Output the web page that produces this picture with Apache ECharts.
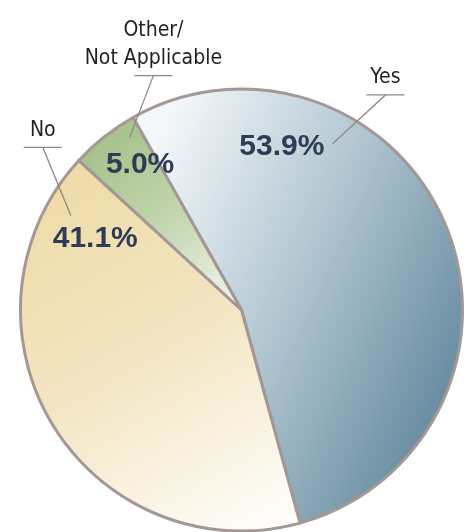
<!DOCTYPE html>
<html>
<head>
<meta charset="utf-8">
<style>
  html, body { margin: 0; padding: 0; background: #ffffff; }
  #chart { width: 474px; height: 532px; }
</style>
<script src="https://cdn.jsdelivr.net/npm/echarts@6/dist/echarts.min.js"></script>
</head>
<body>
<div id="chart"></div>
<script>
// Survey answers, in percent of respondents
const categories = ['Yes', 'No', 'Other/\nNot Applicable'];
const shares = [53.9, 41.1, 5.0];

// Pie geometry (pixels)
const CX = 241.5, CY = 310, R = 221;

// Slice fills: linear gradients across each sector's bounding box
const fills = [
  { x: 0, y: 0.25, x2: 1, y2: 0.6, stops: ['#f3f7fa', '#b2c6d1', '#6a8ea2'] },
  { x: 0.1, y: 0, x2: 0.85, y2: 1, stops: ['#eedaa4', '#f3e5c2', '#fefdf9'] },
  { x: 0.1, y: 0.1, x2: 0.9, y2: 1, stops: ['#a4c08a', '#c2d5ad', '#f1f5ee'] }
];

// Label placement in polar terms: [angle clockwise from 12 o'clock, radius fraction]
const valuePos = [[13.9, 0.759], [-63.9, 0.737], [-34.9, 0.802]];
const leaderTip = [[28.7, 0.858], [-61.0, 0.883], [-33.0, 0.930]];
const leaderKnee = [[33.8, 1.171], [-50.7, 1.162], [-20.6, 1.133]];
const UNDERLINE_HALF = 19;

function polar(p) {
  const a = p[0] * Math.PI / 180;
  return [CX + Math.sin(a) * R * p[1], CY - Math.cos(a) * R * p[1]];
}

function gradient(f) {
  return new echarts.graphic.LinearGradient(f.x, f.y, f.x2, f.y2, [
    { offset: 0, color: f.stops[0] },
    { offset: 0.5, color: f.stops[1] },
    { offset: 1, color: f.stops[2] }
  ]);
}

const pieData = categories.map((name, i) => ({
  name: name,
  value: shares[i],
  itemStyle: { color: gradient(fills[i]) }
}));

const overlayData = categories.map((name, i) => ({ name: name, value: shares[i] }));

const chart = echarts.init(document.getElementById('chart'), null, { renderer: 'canvas' });

chart.setOption({
  animation: false,
  backgroundColor: '#ffffff',
  series: [
    {
      type: 'pie',
      center: [CX, CY],
      radius: [0, R],
      startAngle: 119.4,
      clockwise: true,
      avoidLabelOverlap: false,
      silent: true,
      data: pieData,
      itemStyle: { borderColor: '#a49896', borderWidth: 3 },
      label: {
        show: true,
        position: 'inside',
        formatter: p => p.value.toFixed(1) + '%',
        fontFamily: "'Liberation Sans', Arial, sans-serif",
        fontWeight: 'bold',
        fontSize: 30,
        color: '#2e3d55'
      },
      labelLine: { show: false },
      labelLayout: params => {
        const pt = polar(valuePos[params.dataIndex]);
        return { x: pt[0], y: pt[1], align: 'center', verticalAlign: 'middle' };
      }
    },
    {
      type: 'pie',
      center: [CX, CY],
      radius: [0, R],
      startAngle: 119.4,
      clockwise: true,
      avoidLabelOverlap: false,
      silent: true,
      z: 3,
      data: overlayData,
      itemStyle: { color: 'rgba(0,0,0,0)', borderWidth: 0 },
      label: {
        show: true,
        position: 'outside',
        formatter: '{b}',
        fontFamily: "'DejaVu Sans Condensed', sans-serif",
        fontSize: 21,
        lineHeight: 28,
        color: '#231f20'
      },
      labelLine: {
        show: true,
        lineStyle: { color: '#918886', width: 1.3 }
      },
      labelLayout: params => {
        const i = params.dataIndex;
        const tip = polar(leaderTip[i]);
        const knee = polar(leaderKnee[i]);
        return {
          x: knee[0],
          y: knee[1] - 3,
          align: 'center',
          verticalAlign: 'bottom',
          labelLinePoints: [
            tip,
            knee,
            [knee[0] + UNDERLINE_HALF, knee[1]],
            [knee[0] - UNDERLINE_HALF, knee[1]]
          ]
        };
      }
    }
  ]
});
</script>
</body>
</html>
